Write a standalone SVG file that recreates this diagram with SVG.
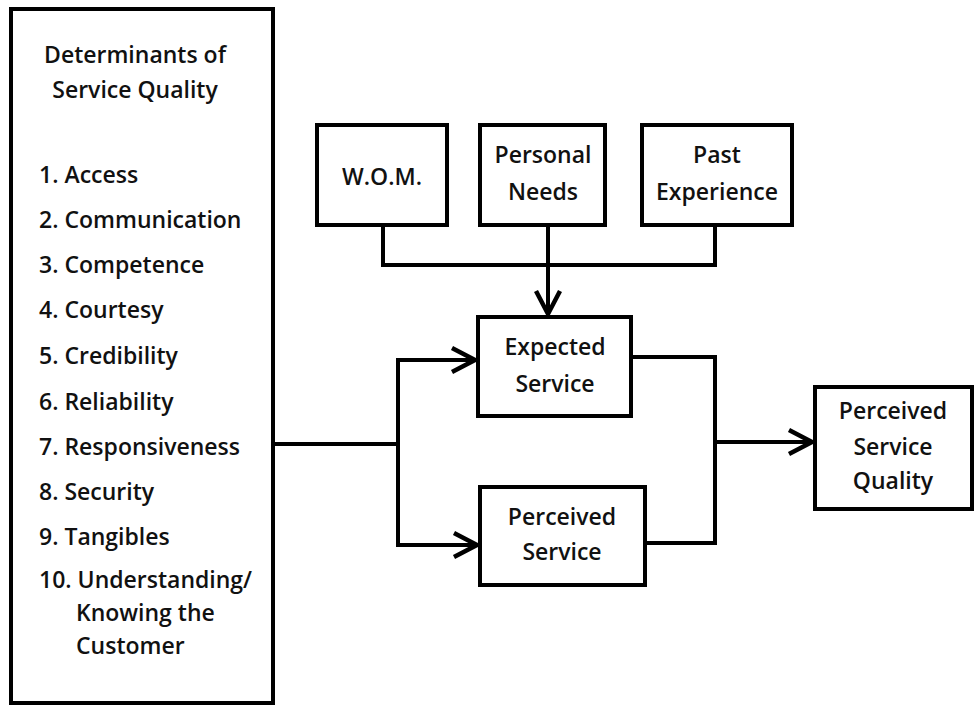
<svg xmlns="http://www.w3.org/2000/svg" width="974" height="706" viewBox="0 0 974 706">
  <style>
    .box { fill: #ffffff; stroke: #000000; stroke-width: 4; }
    .lbl { font-family: "Open Sans", "Noto Sans", sans-serif; font-size: 23px; font-weight: 600; fill: #111111; }
    .mid { text-anchor: middle; }
    .wire { fill: none; stroke: #000000; stroke-width: 4; stroke-linejoin: miter; }
  </style>
  <defs>
    <marker id="chev" markerUnits="userSpaceOnUse" markerWidth="32" markerHeight="32" viewBox="-28 -16 32 32" refX="0" refY="0" orient="auto">
      <path d="M -24 -12 L -1 0 L -24 12" fill="none" stroke="#000" stroke-width="4.5" stroke-linejoin="miter"/>
    </marker>
  </defs>

  <rect width="974" height="706" fill="#ffffff"/>

  <g id="determinants">
    <rect class="box" x="11" y="9" width="262" height="694"/>
    <text class="lbl mid" x="135" y="63">Determinants of</text>
    <text class="lbl mid" x="135" y="98">Service Quality</text>
    <text class="lbl" x="39" y="183">1. Access</text>
    <text class="lbl" x="39" y="228">2. Communication</text>
    <text class="lbl" x="39" y="273">3. Competence</text>
    <text class="lbl" x="39" y="318">4. Courtesy</text>
    <text class="lbl" x="39" y="364">5. Credibility</text>
    <text class="lbl" x="39" y="410">6. Reliability</text>
    <text class="lbl" x="39" y="455">7. Responsiveness</text>
    <text class="lbl" x="39" y="500">8. Security</text>
    <text class="lbl" x="39" y="545">9. Tangibles</text>
    <text class="lbl" x="39" y="588">10. Understanding/</text>
    <text class="lbl" x="76" y="621">Knowing the</text>
    <text class="lbl" x="76" y="654">Customer</text>
  </g>

  <g id="wom">
    <rect class="box" x="317" y="125" width="130" height="100"/>
    <text class="lbl mid" x="382" y="185">W.O.M.</text>
  </g>

  <g id="personal-needs">
    <rect class="box" x="480" y="125" width="125" height="100"/>
    <text class="lbl mid" x="543" y="163">Personal</text>
    <text class="lbl mid" x="543" y="200">Needs</text>
  </g>

  <g id="past-experience">
    <rect class="box" x="642" y="125" width="150" height="100"/>
    <text class="lbl mid" x="717" y="163">Past</text>
    <text class="lbl mid" x="717" y="200">Experience</text>
  </g>

  <g id="expected-service">
    <rect class="box" x="478" y="317" width="153" height="99"/>
    <text class="lbl mid" x="555" y="355">Expected</text>
    <text class="lbl mid" x="555" y="392">Service</text>
  </g>

  <g id="perceived-service">
    <rect class="box" x="480" y="487" width="165" height="98"/>
    <text class="lbl mid" x="562" y="525">Perceived</text>
    <text class="lbl mid" x="562" y="560">Service</text>
  </g>

  <g id="perceived-quality">
    <rect class="box" x="815" y="387" width="157" height="122"/>
    <text class="lbl mid" x="893" y="419">Perceived</text>
    <text class="lbl mid" x="893" y="455">Service</text>
    <text class="lbl mid" x="893" y="489">Quality</text>
  </g>

  <g id="connectors">
    <!-- expectation inputs merge into one feed -->
    <polyline class="wire" points="383,225 383,265 715,265 715,225"/>
    <line class="wire" x1="548" y1="225" x2="548" y2="315" marker-end="url(#chev)"/>
    <!-- determinants split to both service boxes -->
    <line class="wire" x1="273" y1="444" x2="398" y2="444"/>
    <polyline class="wire" points="476,360 398,360 398,545 478,545"/>
    <line class="wire" x1="420" y1="360" x2="476" y2="360" marker-end="url(#chev)"/>
    <line class="wire" x1="420" y1="545" x2="478" y2="545" marker-end="url(#chev)"/>
    <!-- both services join into the quality judgement -->
    <polyline class="wire" points="631,357 715,357 715,543 645,543"/>
    <line class="wire" x1="715" y1="442" x2="813" y2="442" marker-end="url(#chev)"/>
  </g>
</svg>
